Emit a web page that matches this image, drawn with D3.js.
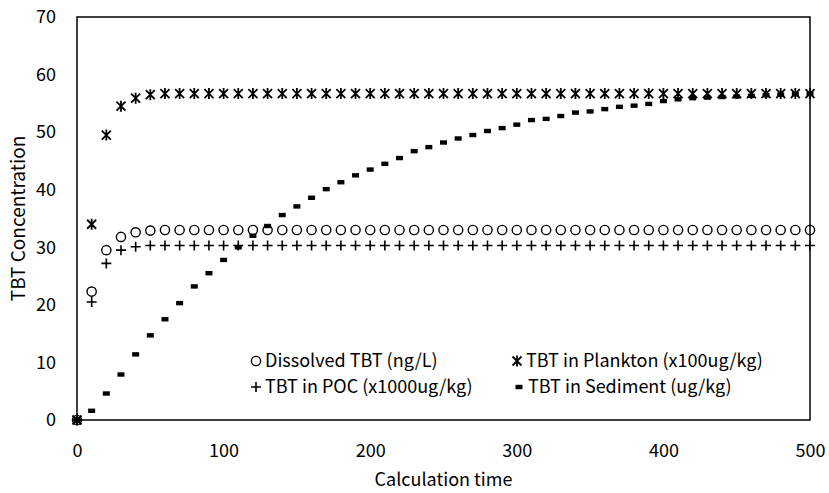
<!DOCTYPE html>
<html><head><meta charset="utf-8">
<script src="https://cdn.jsdelivr.net/npm/d3@7"></script>
<style>body{margin:0;background:#fff;} text{font-family:"Noto Sans CJK JP","Noto Sans",sans-serif;fill:#000;}</style>
</head><body>
<svg id="c" width="829" height="493"></svg>
<script>
const time = [0,10,20,30,40,50,60,70,80,90,100,110,120,130,140,150,160,170,180,190,200,210,220,230,240,250,260,270,280,290,300,310,320,330,340,350,360,370,380,390,400,410,420,430,440,450,460,470,480,490,500];
const dissolved = [0,22.3,29.5,31.8,32.6,32.9,33.0,33.0,33.0,33.0,33.0,33.0,33.0,33.0,33.0,33.0,33.0,33.0,33.0,33.0,33.0,33.0,33.0,33.0,33.0,33.0,33.0,33.0,33.0,33.0,33.0,33.0,33.0,33.0,33.0,33.0,33.0,33.0,33.0,33.0,33.0,33.0,33.0,33.0,33.0,33.0,33.0,33.0,33.0,33.0,33.0];
const poc = [0,20.5,27.2,29.5,30.1,30.3,30.3,30.3,30.3,30.3,30.3,30.3,30.3,30.3,30.3,30.3,30.3,30.3,30.3,30.3,30.3,30.3,30.3,30.3,30.3,30.3,30.3,30.3,30.3,30.3,30.3,30.3,30.3,30.3,30.3,30.3,30.3,30.3,30.3,30.3,30.3,30.3,30.3,30.3,30.3,30.3,30.3,30.3,30.3,30.3,30.3];
const plankton = [0,34.0,49.5,54.5,55.9,56.5,56.7,56.7,56.7,56.7,56.7,56.7,56.7,56.7,56.7,56.7,56.7,56.7,56.7,56.7,56.7,56.7,56.7,56.7,56.7,56.7,56.7,56.7,56.7,56.7,56.7,56.7,56.7,56.7,56.7,56.7,56.7,56.7,56.7,56.7,56.7,56.7,56.7,56.7,56.7,56.7,56.7,56.7,56.7,56.7,56.7];
const sediment = [0,1.6,4.6,7.9,11.4,14.7,17.5,20.3,23.2,25.5,27.8,30.0,32.0,33.7,35.6,37.1,38.6,40.1,41.3,42.5,43.5,44.5,45.5,46.7,47.4,48.2,48.9,49.5,50.2,50.7,51.3,52.1,52.3,52.8,53.4,53.6,54.0,54.4,54.6,54.9,55.4,55.7,55.9,56.0,56.1,56.2,56.3,56.4,56.5,56.6,56.7];
const xTicks = [0,100,200,300,400,500];
const yTicks = [0,10,20,30,40,50,60,70];
const legendLabels = ["Dissolved TBT (ng/L)","TBT in POC (x1000ug/kg)","TBT in Plankton (x100ug/kg)","TBT in Sediment (ug/kg)"];

const svg = d3.select("#c");
const L=77, R=810, T=17, B=420;
const x = d3.scaleLinear().domain([0,500]).range([L,R]);
const y = d3.scaleLinear().domain([0,70]).range([B,T]);

// frame
svg.append("rect").attr("x",L).attr("y",T).attr("width",R-L).attr("height",B-T)
  .attr("fill","none").attr("stroke","#000").attr("stroke-width",1.5);

// axes (labels only)
const xa = svg.append("g").attr("transform",`translate(0,${B})`).call(d3.axisBottom(x).tickValues(xTicks).tickSize(0).tickPadding(24));
const ya = svg.append("g").attr("transform",`translate(${L},0)`).call(d3.axisLeft(y).tickValues(yTicks).tickSize(0).tickPadding(21));
[xa,ya].forEach(a=>{a.select(".domain").remove(); a.selectAll("text").attr("font-size",18).attr("font-family",'"Noto Sans CJK JP",sans-serif');});

svg.append("text").attr("x",(L+R)/2).attr("y",486).attr("text-anchor","middle").attr("font-size",18).text("Calculation time");
svg.append("text").attr("transform",`translate(25,${(T+B)/2}) rotate(-90)`).attr("text-anchor","middle").attr("font-size",19).text("TBT Concentration");

// marker drawers
function circ(g){ g.append("circle").attr("r",4.6).attr("fill","none").attr("stroke","#000").attr("stroke-width",1.4); }
function plus(g){ g.append("path").attr("d","M-5,0H5M0,-5V5").attr("stroke","#000").attr("stroke-width",1.6); }
function star(g){ g.append("path").attr("d","M-4.5,-4.5L4.5,4.5M-4.5,4.5L4.5,-4.5M0,-5.5V5.5").attr("stroke","#000").attr("stroke-width",1.8); }
function dash(g){ g.append("rect").attr("x",-3.5).attr("y",-2.2).attr("width",7).attr("height",4.4).attr("fill","#000"); }

const series = [
  {vals:dissolved, draw:circ},
  {vals:poc, draw:plus},
  {vals:plankton, draw:star},
  {vals:sediment, draw:dash}
];
series.forEach(s=>{
  svg.append("g").selectAll("g").data(time).join("g")
    .attr("transform",(t,i)=>`translate(${x(t)},${y(s.vals[i])})`)
    .each(function(){ s.draw(d3.select(this)); });
});

// legend
const leg = [
  {mx:256, ty:361, draw:circ, lab:legendLabels[0]},
  {mx:256, ty:387, draw:plus, lab:legendLabels[1]},
  {mx:517, ty:361, draw:star, lab:legendLabels[2]},
  {mx:519, ty:387, draw:dash, lab:legendLabels[3]}
];
leg.forEach(l=>{
  const g = svg.append("g").attr("transform",`translate(${l.mx},${l.ty})`);
  l.draw(g);
  svg.append("text").attr("x",l.mx+9).attr("y",l.ty).attr("dy","0.35em").attr("font-size",18).text(l.lab);
});
</script>
</body></html>
